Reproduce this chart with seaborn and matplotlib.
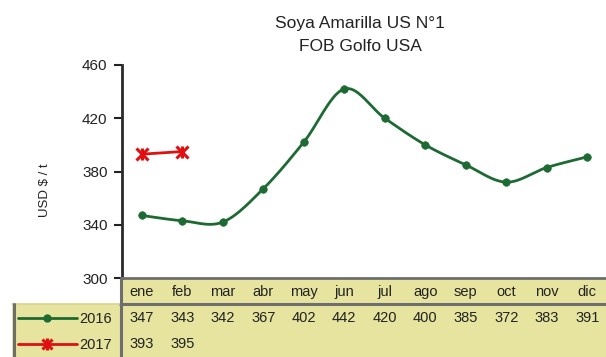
import numpy as np
import pandas as pd
import matplotlib
matplotlib.use("Agg")
import matplotlib.pyplot as plt
from matplotlib.patches import Rectangle
from matplotlib.lines import Line2D
import seaborn as sns

# --- data -------------------------------------------------------------
months = ["ene", "feb", "mar", "abr", "may", "jun",
          "jul", "ago", "sep", "oct", "nov", "dic"]
price_2016 = [347, 343, 342, 367, 402, 442, 420, 400, 385, 372, 383, 391]
price_2017 = [393, 395]
series_names = ["2016", "2017"]
y_ticks = [300, 340, 380, 420, 460]
title_text = "Soya Amarilla US N°1\nFOB Golfo USA"
y_label = "USD $ / t"

GREEN = "#1d6a33"
RED = "#e01010"
BEIGE = "#e6e49f"
BORDER = "#6e6e6e"

sns.set_theme(style="white")
plt.rcParams["font.family"] = ["Liberation Sans Narrow", "Liberation Sans", "DejaVu Sans"]

W, H = 606, 357
fig = plt.figure(figsize=(W / 100, H / 100), dpi=100)


def fx(px):
    return px / W


def fy(py):
    return 1 - py / H


ax_left, ax_right, ax_top, ax_bottom = 121.5, 607.5, 65, 278
ax = fig.add_axes([fx(ax_left), fy(ax_bottom),
                   fx(ax_right - ax_left), fy(ax_top) - fy(ax_bottom)])


def catmull_rom(xv, yv, steps=24):
    """Smoothed path through the points (Excel-style smoothed line)."""
    pts = np.column_stack([xv, yv]).astype(float)
    n = len(pts)
    if n < 3:
        return pts[:, 0], pts[:, 1]
    out = []
    for i in range(n - 1):
        p0 = pts[i - 1] if i > 0 else pts[i]
        p1, p2 = pts[i], pts[i + 1]
        p3 = pts[i + 2] if i + 2 < n else pts[i + 1]
        c1 = p1 + (p2 - p0) / 6
        c2 = p2 - (p3 - p1) / 6
        t = np.linspace(0, 1, steps, endpoint=(i == n - 2))[:, None]
        seg = ((1 - t) ** 3) * p1 + 3 * ((1 - t) ** 2) * t * c1 + 3 * (1 - t) * t ** 2 * c2 + t ** 3 * p2
        out.append(seg)
    out = np.vstack(out)
    return out[:, 0], out[:, 1]


x16 = np.arange(len(price_2016))
x17 = np.arange(len(price_2017))

sx, sy = catmull_rom(x16, price_2016)
sns.lineplot(x=sx, y=sy, sort=False, estimator=None, color=GREEN, lw=2.0, ax=ax)
sns.scatterplot(x=x16, y=price_2016, color=GREEN, s=30, edgecolor=GREEN, ax=ax, zorder=3)

sns.lineplot(x=x17, y=price_2017, sort=False, estimator=None, color=RED, lw=2.0, ax=ax)
ax.plot(x17, price_2017, ls="none", marker="x", ms=8, mew=2.2, color=RED, zorder=3)
ax.plot(x17, price_2017, ls="none", marker="|", ms=9, mew=2.2, color=RED, zorder=3)

ax.set_xlim(-0.5, len(months) - 0.5)
ax.set_ylim(300, 460)
ax.set_yticks(y_ticks)
ax.set_yticklabels([str(v) for v in y_ticks], fontsize=11, color="#222222")
ax.set_xticks([])
ax.tick_params(axis="y", direction="out", length=6, width=1.5, color="#222222", pad=4, left=True)
for side in ["top", "right"]:
    ax.spines[side].set_visible(False)
ax.spines["left"].set_color("#2a2a2a")
ax.spines["left"].set_linewidth(2)
ax.spines["bottom"].set_color(BORDER)
ax.spines["bottom"].set_linewidth(2)
ax.set_xlabel("")
ax.set_ylabel("")

fig.text(fx(45), fy(190), y_label, rotation=90, ha="center", va="center",
         fontsize=9.5, color="#222222")
fig.text(fx(360), fy(35), title_text, ha="center", va="center",
         fontsize=12.5, color="#222222", linespacing=1.6)

# --- data table below the plot ---------------------------------------
row_top, row_mid, row_bot = 279, 304, 357
fig.add_artist(Rectangle((fx(ax_left), fy(row_mid)), fx(W - ax_left), fy(row_top) - fy(row_mid),
                         transform=fig.transFigure, facecolor=BEIGE, edgecolor="none", zorder=0))
fig.add_artist(Rectangle((fx(12), fy(row_bot)), fx(W - 12), fy(row_mid) - fy(row_bot),
                         transform=fig.transFigure, facecolor=BEIGE, edgecolor="none", zorder=0))


def hline(y, x0, x1, color=BORDER, lw=2.2):
    fig.add_artist(Line2D([fx(x0), fx(x1)], [fy(y), fy(y)], transform=fig.transFigure,
                          color=color, lw=lw, zorder=2))


def vline(x, y0, y1, color=BORDER, lw=2.2):
    fig.add_artist(Line2D([fx(x), fx(x)], [fy(y0), fy(y1)], transform=fig.transFigure,
                          color=color, lw=lw, zorder=2))


hline(row_mid, 120, W)
hline(row_mid - 0.5, 12, 120, color="#d6d48e", lw=1.2)
vline(120.5, ax_bottom, H)
vline(14, row_mid, H)

col_w = (ax_right - ax_left) / len(months)
col_x = [ax_left + col_w * (i + 0.5) for i in range(len(months))]
y_head, y_r1, y_r2 = 292, 318, 344
for cx, m in zip(col_x, months):
    fig.text(fx(cx), fy(y_head), m, ha="center", va="center", fontsize=10.5, color="#222222")
for cx, v in zip(col_x, price_2016):
    fig.text(fx(cx), fy(y_r1), str(v), ha="center", va="center", fontsize=10.5, color="#222222")
for cx, v in zip(col_x, price_2017):
    fig.text(fx(cx), fy(y_r2), str(v), ha="center", va="center", fontsize=10.5, color="#222222")

# legend keys in the table rows
fig.add_artist(Line2D([fx(18), fx(77)], [fy(y_r1), fy(y_r1)], transform=fig.transFigure,
                      color=GREEN, lw=2, zorder=3))
fig.add_artist(Line2D([fx(47)], [fy(y_r1)], transform=fig.transFigure, marker="o", ms=5,
                      color=GREEN, zorder=4))
fig.add_artist(Line2D([fx(18), fx(77)], [fy(y_r2), fy(y_r2)], transform=fig.transFigure,
                      color=RED, lw=2, zorder=3))
for mk, ms in (("x", 7), ("|", 8)):
    fig.add_artist(Line2D([fx(47)], [fy(y_r2)], transform=fig.transFigure, marker=mk, ms=ms,
                          mew=2.2, color=RED, zorder=4))
fig.text(fx(96), fy(y_r1 + 1), series_names[0], ha="center", va="center", fontsize=10.5, color="#222222")
fig.text(fx(96), fy(y_r2 + 1), series_names[1], ha="center", va="center", fontsize=10.5, color="#222222")

fig.savefig("out.png", dpi=100)
